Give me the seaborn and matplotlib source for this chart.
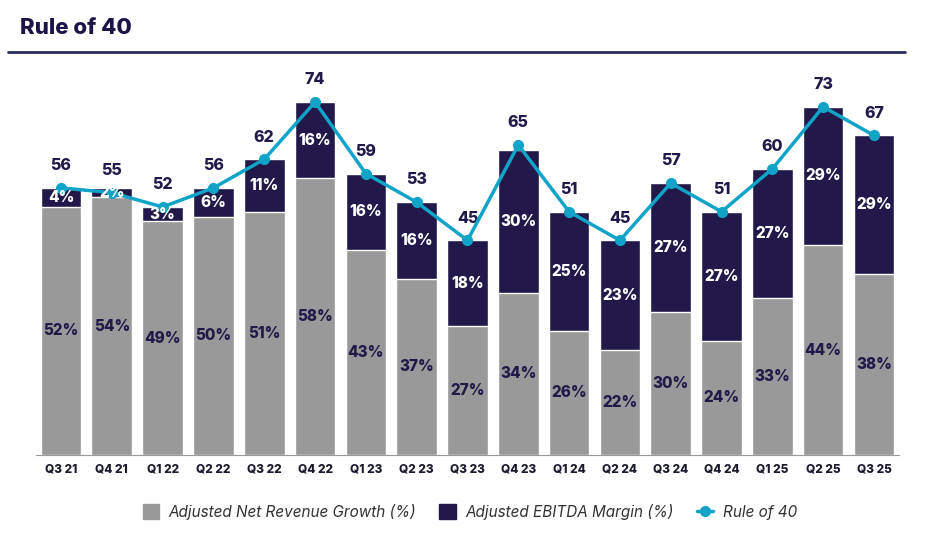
import matplotlib
matplotlib.use("Agg")
import matplotlib.pyplot as plt
import seaborn as sns
import pandas as pd
from matplotlib.patches import Patch
from matplotlib.lines import Line2D

quarters = ["Q3 21", "Q4 21", "Q1 22", "Q2 22", "Q3 22", "Q4 22", "Q1 23", "Q2 23", "Q3 23",
            "Q4 23", "Q1 24", "Q2 24", "Q3 24", "Q4 24", "Q1 25", "Q2 25", "Q3 25"]
revenue_growth = [52, 54, 49, 50, 51, 58, 43, 37, 27, 34, 26, 22, 30, 24, 33, 44, 38]
ebitda_margin = [4, 2, 3, 6, 11, 16, 16, 16, 18, 30, 25, 23, 27, 27, 27, 29, 29]
rule_of_40 = [56, 55, 52, 56, 62, 74, 59, 53, 45, 65, 51, 45, 57, 51, 60, 73, 67]

GRAY = "#999999"
NAVY = "#22194a"
CYAN = "#12a3c9"
TITLE = "#1c1548"

df = pd.DataFrame({"quarter": quarters, "growth": revenue_growth,
                   "ebitda": ebitda_margin, "rule40": rule_of_40})
df["total"] = df["growth"] + df["ebitda"]

sns.set_style("white")
plt.rcParams["font.family"] = ["Inter", "DejaVu Sans"]

fig = plt.figure(figsize=(9.32, 5.44), dpi=100)
ax = fig.add_axes([0.0382, 0.1636, 0.9268, 0.7014])

sns.barplot(data=df, x="quarter", y="total", color=NAVY, width=0.8, saturation=1, ax=ax)
sns.barplot(data=df, x="quarter", y="growth", color=GRAY, width=0.8, saturation=1, ax=ax)
ax.plot(range(len(quarters)), df["rule40"], color=CYAN, lw=2.5, marker="o", ms=7, zorder=5)

for i, row in df.iterrows():
    ax.text(i, row["growth"] / 2, f"{row['growth']}%", ha="center", va="center",
            color=NAVY, fontsize=11, fontweight="heavy")
    ax.text(i, row["growth"] + row["ebitda"] / 2, f"{row['ebitda']}%", ha="center", va="center",
            color="white", fontsize=11, fontweight="heavy", zorder=6)
    ax.annotate(str(row["rule40"]), (i, row["rule40"]), xytext=(0, 16), textcoords="offset points",
                ha="center", va="center", color=NAVY, fontsize=11.5, fontweight="heavy")

ax.set_xlim(-0.5, len(quarters) - 0.5)
ax.set_ylim(0, 80)
ax.set_xlabel("")
ax.set_ylabel("")
ax.set_yticks([])
ax.tick_params(axis="x", length=0, pad=6)
for lbl in ax.get_xticklabels():
    lbl.set_fontweight("heavy")
    lbl.set_fontsize(8.5)
    lbl.set_color("#1a1a2e")
sns.despine(ax=ax, left=True)
ax.spines["bottom"].set_color("#999999")

fig.text(0.021, 0.948, "Rule of 40", fontsize=16, fontweight="heavy", color=TITLE, va="center")
fig.add_artist(Line2D([0.009, 0.971], [0.904, 0.904], color="#2d2a5c", lw=2))

handles = [Patch(color=GRAY), Patch(color=NAVY),
           Line2D([], [], color=CYAN, lw=2.5, marker="o", ms=7)]
labels = ["Adjusted Net Revenue Growth (%)", "Adjusted EBITDA Margin (%)", "Rule of 40"]
fig.legend(handles, labels, loc="center", bbox_to_anchor=(0.504, 0.059), ncol=3, frameon=False,
           prop={"style": "italic", "size": 11}, labelcolor="#333333", columnspacing=1.5,
           handlelength=1.1, handleheight=1.1, handletextpad=0.6)

fig.savefig("out.png", dpi=100)
